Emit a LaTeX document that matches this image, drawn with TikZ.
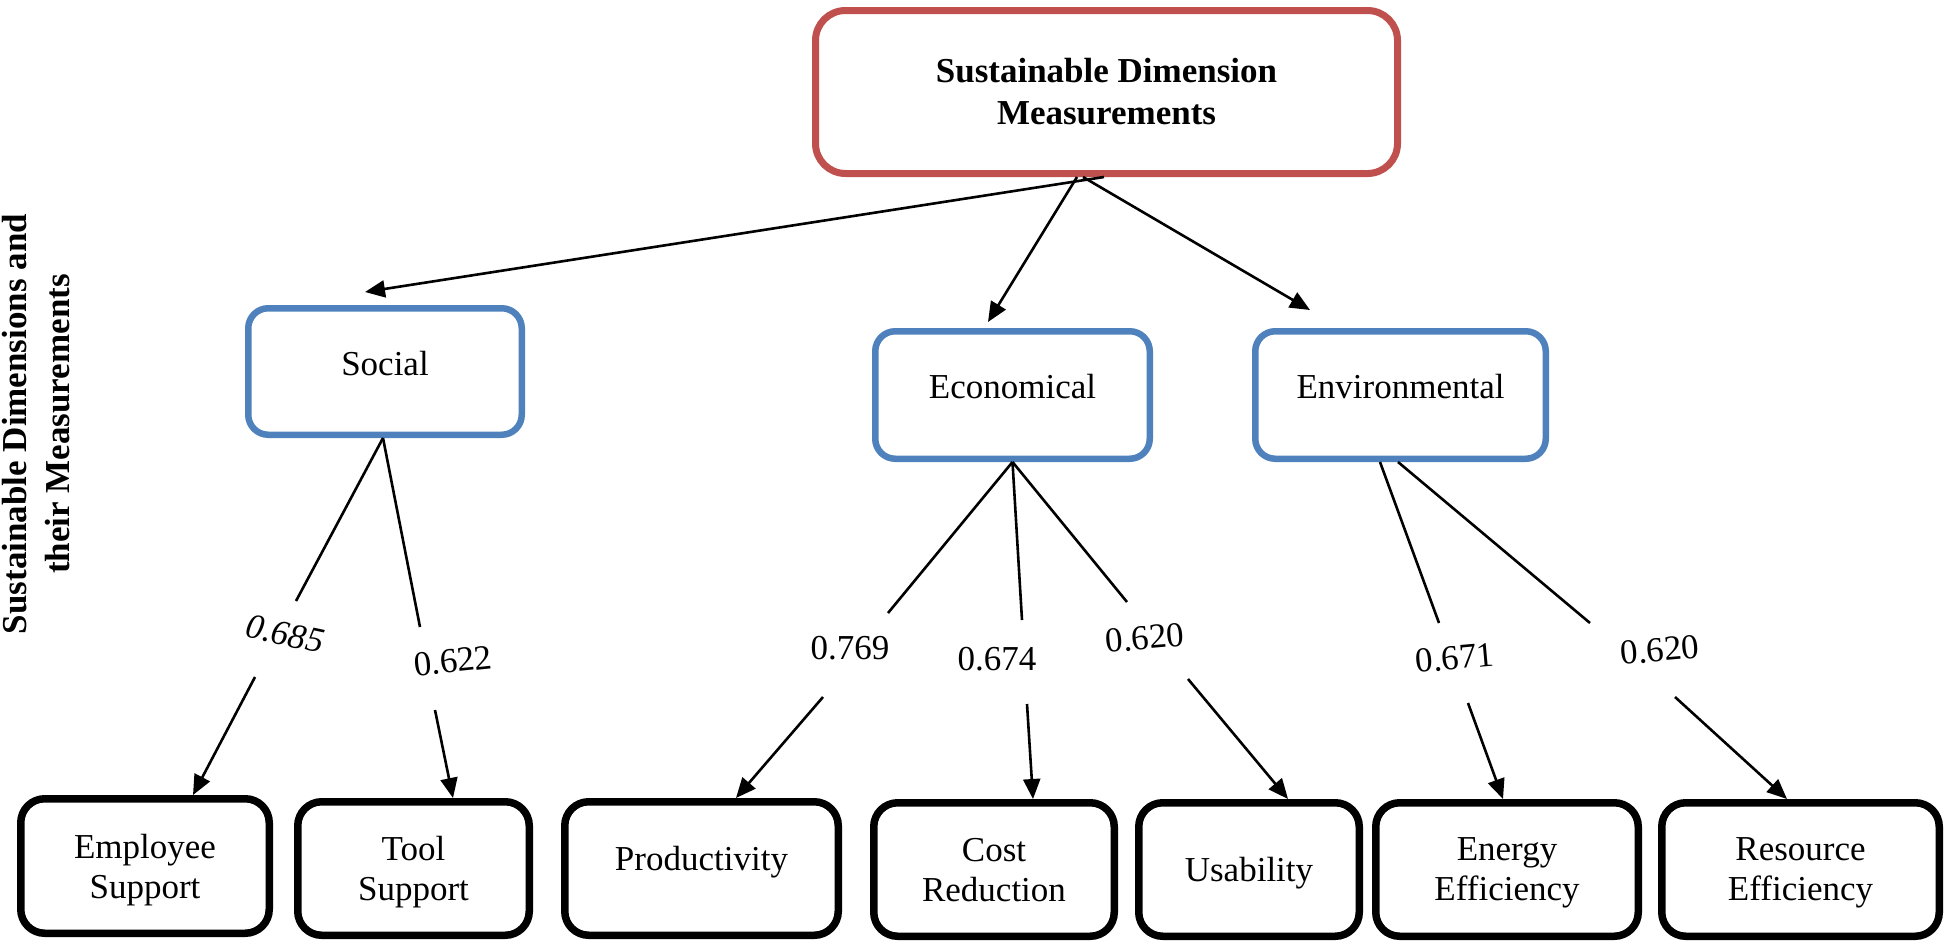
\documentclass[tikz,border=0pt]{standalone}
\usepackage{fontspec}
\setmainfont{Liberation Serif}
\usetikzlibrary{arrows.meta,calc}
\definecolor{boxred}{HTML}{C0504D}
\definecolor{boxblue}{HTML}{4F81BD}
\begin{document}
\begin{tikzpicture}[x=1pt,y=-1pt,
  every node/.style={font=\fontsize{35}{40}\selectfont},
  topbox/.style={draw=boxred, line width=7pt, rounded corners=30pt, minimum width=582pt, minimum height=163pt, align=center, inner sep=0pt, font=\fontsize{35}{42}\selectfont\bfseries},
  dimbox/.style={draw=boxblue, line width=6.5pt, rounded corners=20pt, inner sep=0pt, text height=24pt, text depth=17pt},
  measbox/.style={draw=black, line width=7.5pt, rounded corners=24pt, inner sep=0pt, align=center, text depth=0pt},
  conn/.style={line width=2.6pt, draw=black},
  arr/.style={conn, -{Triangle[length=20pt,width=17pt]}},
  wt/.style={inner sep=0pt},
  sidetext/.style={rotate=90, align=center, inner sep=0pt, font=\fontsize{35}{43}\selectfont\bfseries},
]
\useasboundingbox (0,0) rectangle (1950,948);

% side title
\node[sidetext] (side) at (36,424) {Sustainable Dimensions and\\their Measurements};

% top box
\node[topbox] (top) at (1106.5,92) {Sustainable Dimension\\Measurements};

% dimension boxes
\node[dimbox, minimum width=273.5pt, minimum height=126.5pt] (social) at (385,371.5) {Social};
\node[dimbox, minimum width=274.5pt, minimum height=127.5pt, text depth=18pt] (econ) at (1012.5,395) {Economical};
\node[dimbox, minimum width=290.5pt, minimum height=127.5pt, text depth=18pt] (env) at (1400.5,395) {Environmental};

% measurement boxes
\node[measbox, minimum width=248.5pt, minimum height=134.5pt] (emp) at (145,866) {Employee\\Support};
\node[measbox, minimum width=231.5pt, minimum height=133.5pt] (tool) at (413.5,868.5) {Tool\\Support};
\node[measbox, minimum width=273.5pt, minimum height=133.5pt, text height=24pt, text depth=21pt] (prod) at (701.5,868.5) {Productivity};
\node[measbox, minimum width=240.5pt, minimum height=133.5pt] (cost) at (994,869.5) {Cost\\Reduction};
\node[measbox, minimum width=220.5pt, minimum height=133.5pt, text height=24pt, text depth=0pt] (usab) at (1249,869.5) {Usability};
\node[measbox, minimum width=262.5pt, minimum height=133.5pt] (energy) at (1507,869.5) {Energy\\Efficiency};
\node[measbox, minimum width=277.5pt, minimum height=133.5pt] (res) at (1800.5,869.5) {Resource\\Efficiency};

% weights
\node[wt, font=\fontsize{35}{40}\selectfont\itshape, rotate=-12] (w1) at (285,634) {0.685};
\node[wt, rotate=6] (w2) at (453,661) {0.622};
\node[wt] (w3) at (850,648) {0.769};
\node[wt] (w4) at (997,659) {0.674};
\node[wt, rotate=5] (w5) at (1145,638) {0.620};
\node[wt, rotate=5] (w6) at (1455,658) {0.671};
\node[wt, rotate=5] (w7) at (1660,650) {0.620};

% line end points around the weights
\coordinate (s1e) at (296,601);  \coordinate (s1s) at (255,677);
\coordinate (s2e) at (420,627);  \coordinate (s2s) at (435,710);
\coordinate (e1e) at (888,613);  \coordinate (e1s) at (823,697);
\coordinate (e2e) at (1022,620); \coordinate (e2s) at (1027,704);
\coordinate (e3e) at (1127,602); \coordinate (e3s) at (1188,679);
\coordinate (v1e) at (1439,623); \coordinate (v1s) at (1468,703);
\coordinate (v2e) at (1590,623); \coordinate (v2s) at (1675,697);

% top level arrows
\draw[arr] ([xshift=-2.5pt]top.south) -- ([xshift=-20pt,yshift=13pt]social.north);
\draw[arr] ([xshift=-29.5pt]top.south) -- ([xshift=-24.5pt,yshift=6pt]econ.north);
\draw[arr] ([xshift=-23.5pt]top.south) -- ([xshift=-90.5pt,yshift=18pt]env.north);

% social
\draw[conn] ([xshift=-2pt]social.south) -- (s1e);
\draw[arr] (s1s) -- ([xshift=48pt]emp.north);
\draw[conn] ([xshift=-2pt]social.south) -- (s2e);
\draw[arr] (s2s) -- ([xshift=39.5pt]tool.north);

% economical
\draw[conn] (econ.south) -- (e1e);
\draw[arr] (e1s) -- ([xshift=34.5pt]prod.north);
\draw[conn] (econ.south) -- (e2e);
\draw[arr] (e2s) -- ([xshift=39pt]cost.north);
\draw[conn] (econ.south) -- (e3e);
\draw[arr] (e3s) -- ([xshift=39pt]usab.north);

% environmental
\draw[conn] ([xshift=-20.5pt]env.south) -- (v1e);
\draw[arr] (v1s) -- ([xshift=-4pt]energy.north);
\draw[conn] ([xshift=-2.5pt]env.south) -- (v2e);
\draw[arr] (v2s) -- ([xshift=-13.5pt]res.north);
\end{tikzpicture}
\end{document}
